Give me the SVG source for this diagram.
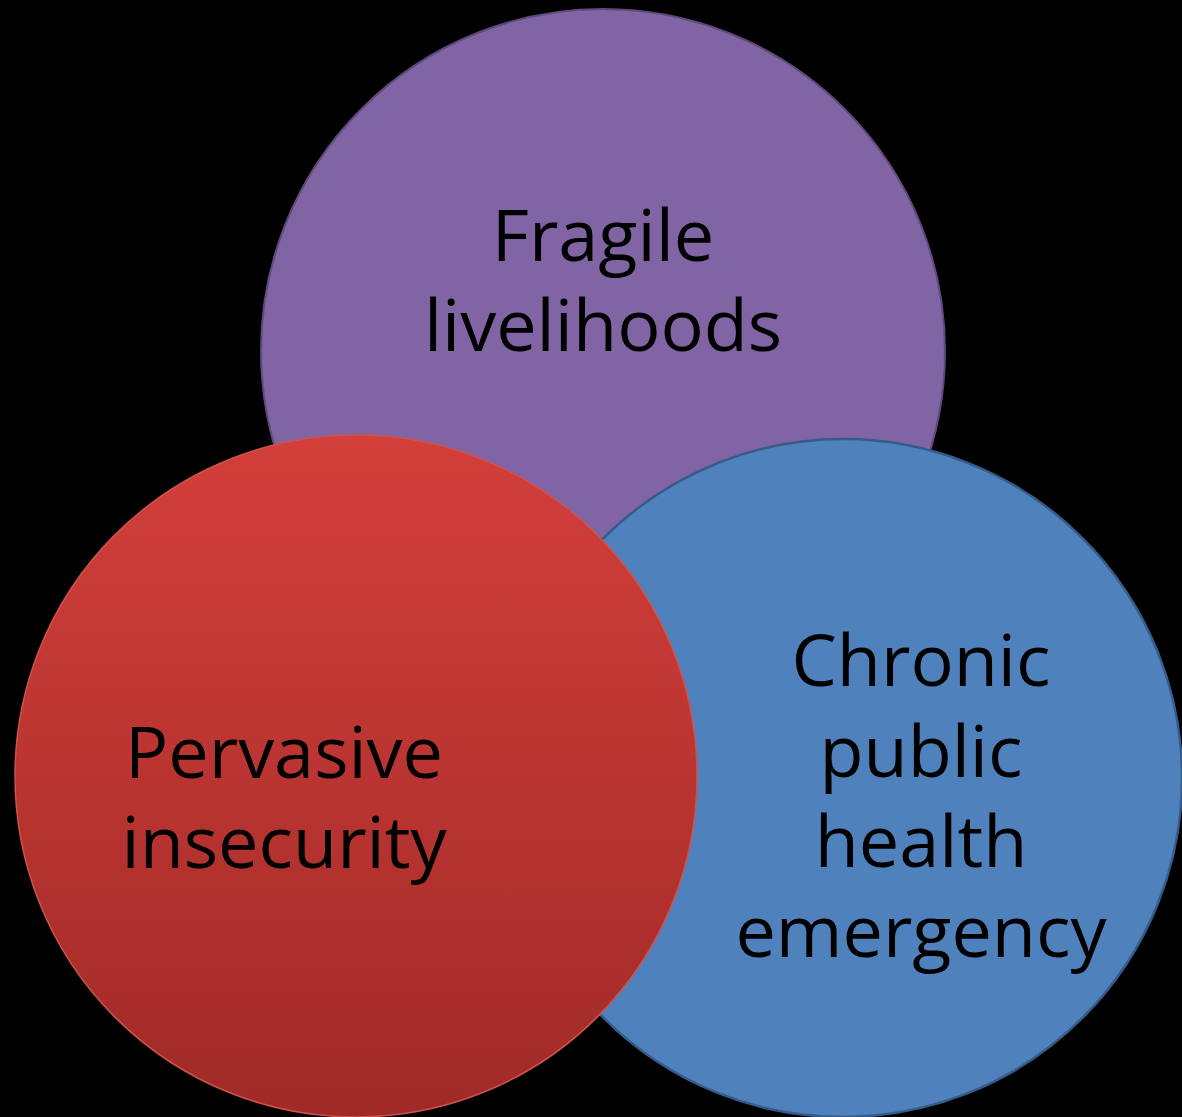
<svg xmlns="http://www.w3.org/2000/svg" width="1182" height="1117" viewBox="0 0 1182 1117">
  <style>
    .lbl { font-family: "Open Sans", "Noto Sans", "Liberation Sans", sans-serif; font-size: 72px; fill: #000000; text-anchor: middle; }
  </style>
  <defs>
    <linearGradient id="redGrad" x1="0" y1="0" x2="0" y2="1">
      <stop offset="0" stop-color="#d33f3b"/>
      <stop offset="1" stop-color="#a02a27"/>
    </linearGradient>
  </defs>
  <rect x="0" y="0" width="1182" height="1117" fill="#000000"/>
  <g id="node-fragile">
    <circle cx="603" cy="351" r="342" fill="#8064a3" stroke="#5e4a7a" stroke-width="2"/>
    <text class="lbl" x="603" y="261">Fragile</text>
    <text class="lbl" x="603" y="351">livelihoods</text>
  </g>
  <g id="node-health">
    <circle cx="843" cy="778" r="339" fill="#4f81bd" stroke="#375b88" stroke-width="2.5"/>
    <text class="lbl" x="921" y="686">Chronic</text>
    <text class="lbl" x="921" y="777">public</text>
    <text class="lbl" x="921" y="867">health</text>
    <text class="lbl" x="921" y="957">emergency</text>
  </g>
  <g id="node-insecurity">
    <circle cx="356" cy="776" r="341" fill="url(#redGrad)" stroke="#d0524c" stroke-width="1.5"/>
    <text class="lbl" x="284" y="778">Pervasive</text>
    <text class="lbl" x="284" y="868">insecurity</text>
  </g>
  <g id="connectors"></g>
</svg>
